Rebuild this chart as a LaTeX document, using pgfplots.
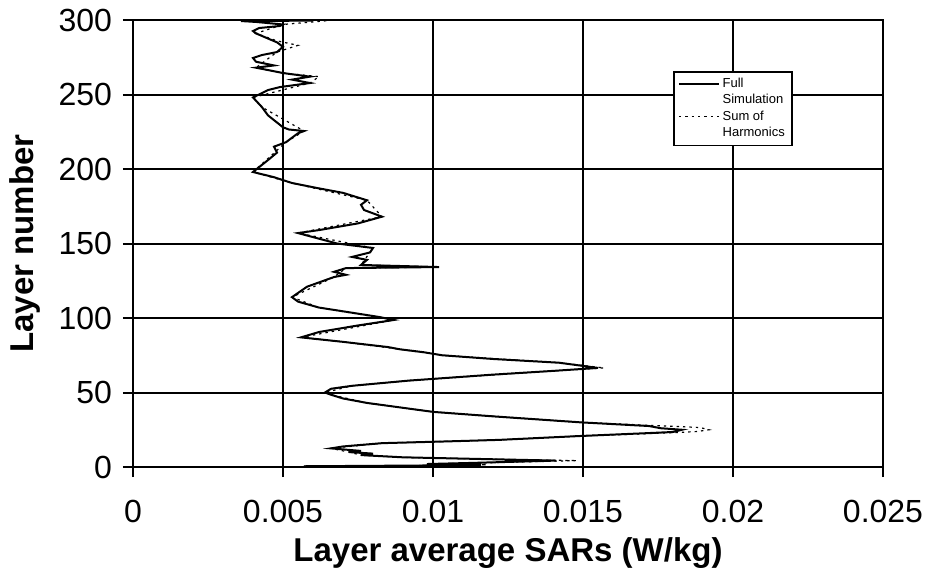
\documentclass[border=0pt]{standalone}
\usepackage{fontspec}
\setmainfont{Liberation Sans}
\usepackage{pgfplots}
\pgfplotsset{compat=1.18}

% layer-averaged SAR, full simulation
\pgfplotstableread{
x y
0.0057 0.5
0.0096 1.0
0.0116 1.5
0.0098 2.0
0.0112 2.7
0.0141 4.3
0.0120 5.2
0.0090 6.5
0.0076 8.0
0.0080 9.0
0.0072 10.0
0.0076 10.8
0.0066 12.5
0.0070 13.8
0.0083 16.0
0.0105 17.2
0.0122 18.2
0.0149 20.8
0.0170 22.6
0.0180 23.5
0.0183 25.0
0.0176 26.0
0.0172 27.5
0.0149 30.0
0.0120 34.0
0.0100 37.0
0.0089 40.0
0.0078 43.0
0.0070 46.0
0.0066 48.5
0.0064 50.0
0.0066 52.5
0.0073 54.5
0.0092 58.0
0.0120 62.0
0.0140 64.5
0.0155 66.5
0.0142 70.0
0.0120 72.5
0.0103 75.0
0.0097 77.0
0.0089 79.0
0.0085 80.5
0.0070 84.0
0.0056 87.0
0.0062 90.6
0.0075 95.0
0.0087 98.7
0.0082 100.7
0.0070 104.5
0.0062 107.0
0.0055 111.0
0.0053 114.0
0.0058 121.0
0.0067 127.5
0.0071 129.0
0.0067 131.0
0.0071 133.5
0.0102 134.2
0.0076 135.6
0.0078 139.0
0.0073 141.0
0.0079 144.0
0.0080 147.0
0.0068 150.0
0.0055 157.0
0.0062 159.0
0.0075 163.5
0.0083 168.0
0.0077 172.5
0.0076 176.0
0.0078 179.0
0.0070 184.0
0.0062 187.0
0.0053 190.6
0.0047 194.5
0.0040 198.0
0.0045 206.0
0.0048 211.0
0.0047 215.0
0.0051 218.0
0.0055 224.0
0.0057 225.5
0.0052 226.5
0.0050 228.0
0.0045 236.0
0.0043 241.5
0.0040 248.0
0.0045 253.0
0.0049 255.0
0.0059 257.7
0.0053 260.0
0.0059 262.0
0.0050 264.4
0.0041 268.0
0.0047 269.5
0.0041 272.0
0.0040 274.5
0.0043 276.5
0.0048 278.5
0.0050 282.0
0.0048 285.0
0.0041 291.0
0.0040 292.6
0.0042 294.6
0.0049 296.0
0.0050 297.0
0.0041 298.7
0.0036 299.3
0.0060 299.6
0.0056 300.0
}\fullsim

% sum of harmonics (differs mostly at the peaks)
\pgfplotstableread{
x y
0.0057 0.5
0.0100 1.0
0.0118 1.5
0.0100 2.0
0.0115 2.7
0.0148 4.3
0.0120 5.2
0.0090 6.5
0.0076 8.0
0.0072 10.0
0.0066 12.5
0.0083 16.0
0.0122 18.2
0.0149 20.8
0.0175 22.6
0.0188 23.8
0.0192 25.0
0.0189 26.5
0.0172 28.0
0.0149 30.0
0.0100 37.0
0.0078 43.0
0.0066 48.5
0.0064 50.0
0.0073 54.5
0.0092 58.0
0.0140 64.5
0.0157 66.5
0.0142 70.0
0.0103 75.0
0.0089 79.0
0.0070 84.0
0.0056 87.0
0.0087 98.7
0.0062 107.0
0.0053 114.0
0.0067 127.5
0.0071 133.5
0.0102 134.2
0.0076 135.6
0.0080 147.0
0.0055 157.0
0.0083 168.0
0.0078 179.0
0.0053 190.6
0.0040 198.0
0.0051 218.0
0.0057 225.5
0.0043 241.5
0.0040 248.0
0.0059 257.7
0.0062 262.0
0.0050 264.4
0.0041 268.0
0.0048 278.5
0.0055 283.0
0.0048 286.0
0.0041 291.0
0.0050 297.0
0.0065 299.6
}\harmsum

\begin{document}
\begin{tikzpicture}
\useasboundingbox (-66.5pt,-54pt) rectangle (397pt,233.5pt);
\begin{axis}[
  scale only axis, width=375pt, height=223.5pt,
  xmin=0, xmax=0.025, ymin=0, ymax=300,
  scaled x ticks=false,
  xtick={0,0.005,0.01,0.015,0.02,0.025},
  xticklabels={0,0.005,0.01,0.015,0.02,0.025},
  ytick={0,50,100,150,200,250,300},
  yticklabels={0,50,100,150,200,250,300},
  grid=major, major grid style={black, line width=1pt},
  axis line style={line width=1pt},
  tick style={black, line width=1pt},
  tick align=outside, major tick length=5pt,
  xtick pos=bottom, ytick pos=left,
  ticklabel style={font=\fontsize{16}{19}\selectfont},
  xticklabel style={yshift=-8pt},
  yticklabel style={xshift=-2pt},
  xlabel={\bfseries Layer average SARs (W/kg)},
  ylabel={\bfseries Layer number},
  label style={font=\fontsize{16.5}{19}\selectfont},
  xlabel style={at={(axis description cs:0.5,-0.2103)}, anchor=base},
  ylabel style={at={(axis description cs:-0.1333,0.5)}, anchor=base},
  legend style={at={(0.72,0.886)}, anchor=north west, draw=black, line width=0.8pt,
    fill=white, font=\fontsize{6.5}{8}\selectfont, inner sep=2pt,
    nodes={inner ysep=1pt, inner xsep=1.5pt}},
  legend cell align=left,
  legend image code/.code={\draw[#1] (0cm,0cm) -- (0.7cm,0cm);},
]
\addplot[black, line width=0.6pt, dash pattern=on 1.2pt off 2pt, forget plot] table {\harmsum};
\addplot[black, line width=1pt] table {\fullsim};
\addlegendentry{Full}
\addlegendimage{empty legend}
\addlegendentry{Simulation}
\addlegendimage{black, line width=0.6pt, dash pattern=on 1.2pt off 2pt}
\addlegendentry{Sum of}
\addlegendimage{empty legend}
\addlegendentry{Harmonics}
\end{axis}
\end{tikzpicture}
\end{document}
